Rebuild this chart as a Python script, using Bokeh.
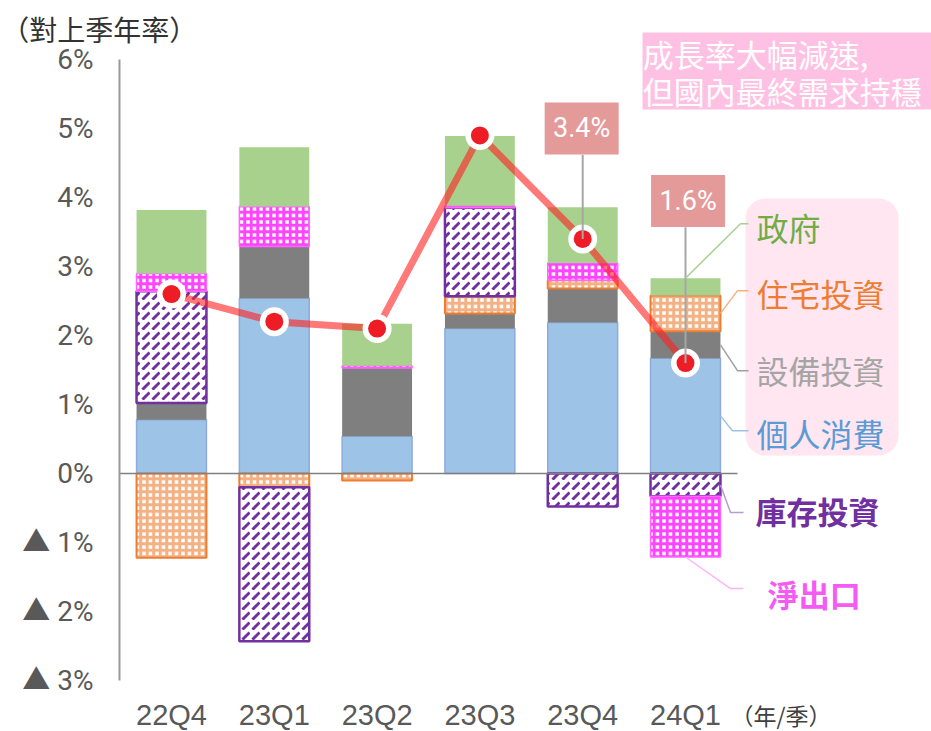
import numpy as np
from bokeh.plotting import figure
from bokeh.models import Range1d, BoxAnnotation, ColumnDataSource
from bokeh.core.properties import value
from bokeh.embed import file_html
from bokeh.resources import INLINE

# ---------------- data ----------------
quarters = ["22Q4", "23Q1", "23Q2", "23Q3", "23Q4", "24Q1"]
consumption = [0.78, 2.54, 0.54, 2.10, 2.19, 1.67]      # 個人消費
capex = [0.24, 0.75, 0.99, 0.22, 0.49, 0.39]            # 設備投資
housing = [-1.22, -0.20, -0.10, 0.25, 0.12, 0.52]       # 住宅投資
inventory = [1.62, -2.23, 0.00, 1.28, -0.48, -0.33]     # 庫存投資
net_exports = [0.26, 0.58, 0.03, 0.03, 0.25, -0.88]     # 淨出口
government = [0.92, 0.86, 0.61, 1.01, 0.81, 0.25]      # 政府
gdp = [2.6, 2.2, 2.1, 4.9, 3.4, 1.6]                    # 實質GDP成長率
y_ticks = [-3, -2, -1, 0, 1, 2, 3, 4, 5, 6]
y_tick_labels = ["▲ 3%", "▲ 2%", "▲ 1%", "0%", "1%", "2%", "3%", "4%", "5%", "6%"]
callout_quarters = ["23Q4", "24Q1"]
title_text = "（對上季年率）"
unit_text = "（年/季）"
note_lines = ["成長率大幅減速,", "但國內最終需求持穩"]

CJK = "Noto Sans CJK TC"
NUM = "Roboto, 'Noto Sans CJK TC', sans-serif"
LAT = "'Liberation Sans', sans-serif"

x = np.arange(len(quarters), dtype=float)

p = figure(width=931, height=731, output_backend="svg", toolbar_location=None,
           x_range=Range1d(-1.6634, 7.393), y_range=Range1d(-3.739, 6.855),
           x_axis_location=None, y_axis_location=None,
           min_border_left=0, min_border_right=0, min_border_top=0, min_border_bottom=0,
           outline_line_color=None)
p.grid.visible = False

# ---------------- stacked bars ----------------
components = [
    ("個人消費", consumption, dict(fill_color="#9DC3E6", line_color="#8FAADC", line_width=1.5)),
    ("設備投資", capex, dict(fill_color="#7F7F7F", line_color=None)),
    ("住宅投資", housing, dict(fill_color="white", hatch_pattern="cross", hatch_color="#F4B183",
                           hatch_weight=3, hatch_scale=6.5, line_color="#ED7D31", line_width=2)),
    ("庫存投資", inventory, dict(fill_color="white", hatch_pattern="right_diagonal_dash",
                           hatch_color="#7030A0", hatch_weight=3, hatch_scale=10,
                           line_color="#7030A0", line_width=2.5)),
    ("淨出口", net_exports, dict(fill_color="white", hatch_pattern="cross", hatch_color="#FF44FF",
                           hatch_weight=3, hatch_scale=6.5, line_color="#FF66FF", line_width=1.5)),
    ("政府", government, dict(fill_color="#A9D18E", line_color=None)),
]

pos = np.zeros(len(x))
neg = np.zeros(len(x))
bounds = {}
for name, vals, style in components:
    v = np.array(vals, dtype=float)
    bottom = np.where(v >= 0, pos, neg + v)
    top = np.where(v >= 0, pos + v, neg)
    pos = pos + np.clip(v, 0, None)
    neg = neg + np.clip(v, None, 0)
    bounds[name] = (bottom, top)
    m = v != 0
    src = ColumnDataSource(dict(x=x[m], bottom=bottom[m], top=top[m]))
    p.vbar(x="x", bottom="bottom", top="top", width=0.68, source=src, **style)

# zero line and value axis line
p.segment(x0=[-0.506], y0=[0], x1=[5.506], y1=[0], line_color="#808080", line_width=1.5)
p.segment(x0=[-0.506], y0=[y_ticks[0]], x1=[-0.506], y1=[y_ticks[-1]],
          line_color="#999999", line_width=2)

# value-axis tick labels
p.text(x=[-0.759] * len(y_ticks), y=y_ticks, text=y_tick_labels, text_color="#595959",
       text_font=value(NUM), text_font_size="28px", text_align="right", text_baseline="middle")

# ---------------- GDP line ----------------
p.line(x, gdp, line_color="#FF2020", line_alpha=0.6, line_width=7)
p.scatter(x, gdp, size=29, fill_color="white", line_color=None)
p.scatter(x, gdp, size=18, fill_color="#EE1C25", line_color=None)

# ---------------- callouts ----------------
box_offsets = [(-0.01, 1.6), (0.025, 2.35)]   # box centre relative to the point (x, y)
for q, (dx, dy) in zip(callout_quarters, box_offsets):
    i = quarters.index(q)
    bx, by = i + dx, gdp[i] + dy
    p.segment(x0=[i], y0=[by - 0.38], x1=[i], y1=[gdp[i]], line_color="#A6A6A6", line_width=2)
    p.rect(x=[bx], y=[by], width=74, height=52, width_units="screen", height_units="screen",
           fill_color="#E59A9A", line_color=None)
    p.text(x=[bx], y=[by], text=[f"{gdp[i]}%"], text_color="white", text_font=value(NUM),
           text_font_size="27px", text_align="center", text_baseline="middle")

# leader lines to the bar-segment labels (last quarter)
last = len(quarters) - 1
edge = last + 0.34
mid = lambda name: (bounds[name][0][last] + bounds[name][1][last]) / 2
leaders = [
    ([last, 5.535, 5.613], [bounds["政府"][1][last], 3.62, 3.62], "#A9D18E"),
    ([edge, 5.506, 5.613], [mid("住宅投資"), 2.65, 2.65], "#F4B183"),
    ([edge, 5.506, 5.613], [mid("設備投資"), 1.49, 1.49], "#A0A0A0"),
    ([edge, 5.457, 5.613], [mid("個人消費"), 0.62, 0.62], "#9DC3E6"),
    ([edge, 5.438, 5.564], [mid("庫存投資"), -0.565, -0.565], "#B79AD6"),
    ([last, 5.438, 5.564], [bounds["淨出口"][0][last], -1.667, -1.667], "#FFB3FF"),
]
p.multi_line(xs=[l[0] for l in leaders], ys=[l[1] for l in leaders],
             line_color=[l[2] for l in leaders], line_width=1.5)

# legend-like labels
legend_box = BoxAnnotation(left=5.584, right=7.072, bottom=0.261, top=3.986,
                           fill_color="#FFE6F0", fill_alpha=1, line_color=None,
                           border_radius=20, level="underlay")
p.add_layout(legend_box)
p.text(x=[5.69] * 4, y=[3.572, 2.616, 1.493, 0.594],
       text=["政府", "住宅投資", "設備投資", "個人消費"],
       text_color=["#70AD47", "#ED7D31", "#A5A5A5", "#5B9BD5"],
       text_font=value(CJK), text_font_size="32px", text_align="left", text_baseline="middle")
p.text(x=[5.68, 5.80], y=[-0.536, -1.739], text=["庫存投資", "淨出口"],
       text_color=["#7030A0", "#F55AF5"], text_font=value(CJK), text_font_size="31px",
       text_font_style="bold", text_align="left", text_baseline="middle")

# note box
note_box = BoxAnnotation(left=4.582, right=7.4, bottom=5.275, top=6.391,
                         fill_color="#FFC1E3", fill_alpha=1, line_color=None, level="underlay")
p.add_layout(note_box)
p.text(x=[4.585, 4.585], y=[6.087, 5.551], text=note_lines, text_color="white",
       text_font=value(CJK), text_font_size="31px", text_align="left", text_baseline="middle")

# category labels and unit
p.text(x=x, y=[-3.493] * len(x), text=quarters, text_color="#595959", text_font=value(LAT),
       text_font_size="29px", text_align="center", text_baseline="middle")
p.text(x=[5.438], y=[-3.493], text=[unit_text], text_color="#404040", text_font=value(CJK),
       text_font_size="23px", text_align="left", text_baseline="middle")

# title
p.text(x=[-1.655], y=[6.435], text=[title_text], text_font=value(CJK), text_font_size="28px",
       text_color="#333333", text_baseline="middle", text_align="left")

open("out.html", "w").write(file_html(p, INLINE))
